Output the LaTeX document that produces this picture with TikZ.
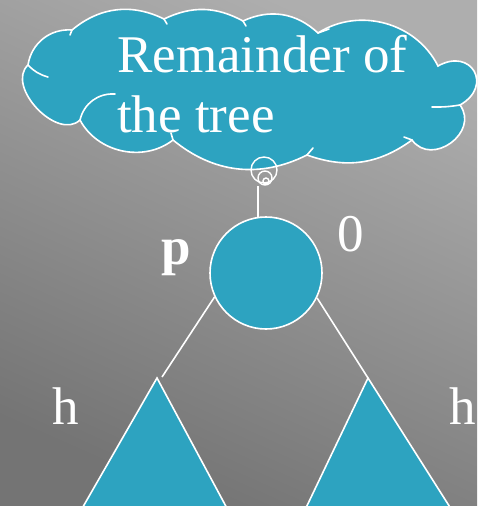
\documentclass[tikz,border=0pt]{standalone}
\usepackage{fontspec}
\setmainfont{Liberation Serif}
\usetikzlibrary{positioning}

\definecolor{treeblue}{RGB}{45,163,192}
\definecolor{bglight}{RGB}{174,174,174}
\definecolor{bgdark}{RGB}{116,116,116}

\begin{document}
\begin{tikzpicture}[x=1pt, y=-1pt]
\tikzset{
  bigtext/.style={text=white, font=\fontsize{53}{60}\selectfont, inner sep=0pt},
  puff/.style={fill=treeblue, draw=white, line width=1.6pt},
  seam/.style={draw=white, line width=1.6pt, line cap=round},
  ring/.style={circle, draw=white, line width=1.4pt, inner sep=0pt},
  keynode/.style={circle, fill=treeblue, draw=white, line width=1.6pt,
    minimum size=112pt, inner sep=0pt},
  subtree/.style={fill=treeblue, draw=white, line width=1.6pt, line join=miter},
  link/.style={draw=white, line width=1.6pt}
}

% background
\shade[top color=bglight, bottom color=bgdark, shading angle=-24]
  (0,0) rectangle (477,506);
\useasboundingbox (0,0) rectangle (477,506);

% cloud outline
\coordinate (ca) at (28,65);   \coordinate (cb) at (72,30);
\coordinate (cc) at (164,19);  \coordinate (cd) at (243,21);
\coordinate (ce) at (318,33);  \coordinate (cf) at (438,66);
\coordinate (cg) at (460,105); \coordinate (ch) at (412,140);
\coordinate (ci) at (307,155); \coordinate (cj) at (173,140);
\coordinate (ck) at (80,120);
\path[puff] (ca) to[bend left=43] (cb) to[bend left=33] (cc)
  to[bend left=27] (cd) to[bend left=34] (ce) to[bend left=48] (cf)
  to[bend left=90, looseness=2.2] (cg) to[bend left=90, looseness=1.45] (ch)
  to[bend left=28] (ci) to[bend left=33] (cj) to[bend left=50] (ck)
  to[bend left=90, looseness=1.05] (ca) -- cycle;
% inner seams of the cloud
\draw[seam] (ca) to[bend right=15] (48,77);
\draw[seam] (ck) to[bend left=40] (115,94);
\draw[seam] (cg) to[bend left=5] (432,107);
\draw[seam] (cb) -- (70,35);
\draw[seam] (cc) -- (167,24);
\draw[seam] (cd) -- (246,26);
\draw[seam] (ce) -- (329,29);
\draw[seam] (ch) -- (404,137);
\draw[seam] (ci) -- (313,148);
\draw[seam] (cj) -- (171,133);

% cloud text and tail
\node[bigtext, anchor=base west] (rem1) at (117,72) {Remainder of};
\node[bigtext, anchor=base west] (rem2) at (117,132) {the tree};
\node[ring, minimum size=26pt] (tailA) at (264,170) {};
\node[ring, minimum size=14pt] (tailB) at (265,178) {};
\node[ring, minimum size=6pt] (tailC) at (266,181) {};
\coordinate (tailfoot) at (258,186);

% root and subtrees
\coordinate (lapex) at (157,378);
\coordinate (rapex) at (368,378);
\draw[link] (tailfoot) -- (258,220);
\node[keynode] (root) at (266,273) {};
\draw[link] (root.205) -- (162,377);
\draw[link] (root.334) -- (rapex);
\filldraw[subtree] (lapex) -- (80,512) -- (229,512) -- cycle;
\filldraw[subtree] (rapex) -- (304,512) -- (453,512) -- cycle;

% labels
\node[bigtext, font=\fontsize{53}{60}\selectfont\bfseries, anchor=base] (plabel) at (176,264) {p};
\node[bigtext, anchor=base] (zero) at (351,251) {0};
\node[bigtext, anchor=base] (hleft) at (66,424) {h};
\node[bigtext, anchor=base west] (hright) at (449,424) {h};
\end{tikzpicture}
\end{document}
